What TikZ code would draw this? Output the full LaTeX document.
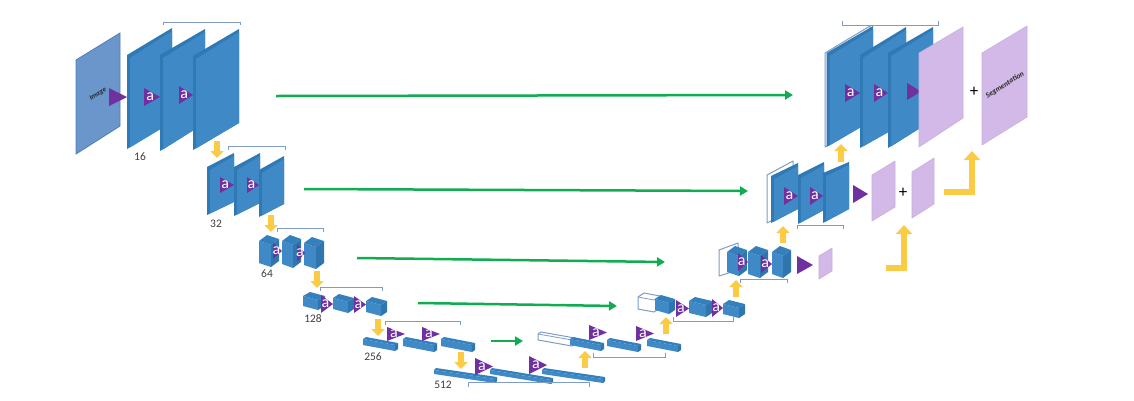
\documentclass[tikz,border=0pt]{standalone}
\usepackage{fontspec}
\setmainfont{Carlito}
\usetikzlibrary{arrows.meta}
\definecolor{pdark}{HTML}{2F79B4}
\definecolor{pface}{HTML}{3E89C6}
\definecolor{ptop}{HTML}{3380BD}
\definecolor{pside}{HTML}{2F76AF}
\definecolor{imgblue}{HTML}{6A96CB}
\definecolor{imgedge}{HTML}{4E7FB6}
\definecolor{lilac}{HTML}{D2B9E8}
\definecolor{lilacedge}{HTML}{C6AEDF}
\definecolor{violet2}{HTML}{7030A0}
\definecolor{brack}{HTML}{7F9CC9}
\definecolor{ygold}{HTML}{FCCB45}
\definecolor{gline}{HTML}{10AC50}
\tikzset{
  bracketline/.style={draw=brack,line width=1pt},
  goarrow/.style={draw=gline,line width=2.5pt,-{Triangle[length=8pt,width=9pt]}},
  yarrow/.style={draw=ygold,line width=6pt,-{Triangle[length=7pt,width=13pt]}},
  yelbow/.style={draw=ygold,line width=6pt,miter limit=10,-{Triangle[length=9pt,width=16pt]}},
  alabel/.style={text=white,font=\fontsize{16}{16}\selectfont,inner sep=0pt},
  numlabel/.style={text=black!75,font=\fontsize{11.5}{12}\selectfont,inner sep=0pt},
  pluslabel/.style={text=black,font=\fontsize{17}{17}\selectfont,inner sep=0pt},
  lilacplate/.style={fill=lilac,draw=lilacedge,line width=0.6pt,line join=round},
  hollow/.style={fill=white,draw=brack,line width=1pt,line join=round},
  solidtri/.style={fill=violet2},
}
% plate: xl, y top left, xr, y top right, y bottom right, y bottom left
\newcommand\plate[6]{%
  \fill[pdark,line join=round] (#1,#2) -- (#3,#4) -- (#3,#5) -- (#1,#6) -- cycle;
  \fill[pface] ({#1+3},{#2+3}) -- (#3,{#4+3}) -- (#3,#5) -- ({#1+3},{#6-1.5}) -- cycle;
}
\newcommand\lilacp[6]{\path[lilacplate] (#1,#2) -- (#3,#4) -- (#3,#5) -- (#1,#6) -- cycle;}
\newcommand\hollowp[6]{\path[hollow] (#1,#2) -- (#3,#4) -- (#3,#5) -- (#1,#6) -- cycle;}
% cube: xl, yt, xr, yb, slope, dx, dy
\newcommand\cube[7]{%
  \fill[pface] (#1,{#2+#7}) -- ({#3-#6},{#2+#7+#5}) -- ({#3-#6},#4) -- (#1,{#4-#5}) -- cycle;
  \fill[ptop] (#1,{#2+#7}) -- ({#1+#6},#2) -- (#3,{#2+#5}) -- ({#3-#6},{#2+#7+#5}) -- cycle;
  \fill[pside] ({#3-#6},{#2+#7+#5}) -- (#3,{#2+#5}) -- (#3,{#4-#7}) -- ({#3-#6},#4) -- cycle;
}
\newcommand\hollowc[7]{%
  \path[hollow] (#1,{#2+#7}) -- ({#1+#6},#2) -- (#3,{#2+#5}) -- (#3,{#4-#7}) -- ({#3-#6},#4) -- (#1,{#4-#5}) -- cycle;
  \draw[brack,line width=0.8pt] (#1,{#2+#7}) -- ({#3-#6},{#2+#7+#5}) -- (#3,{#2+#5});
}
% triangle with letter: name, x, y top, y bottom, x tip
\newcommand\atri[5]{%
  \fill[violet2] (#2,#3) -- (#2,#4) -- (#5,{(#3+#4)/2}) -- cycle;
  \node[alabel] (#1) at ({#2+(#5-#2)*0.38},{(#3+#4)/2}) {a};
}
\newcommand\btri[4]{\fill[violet2] (#1,#2) -- (#1,#3) -- (#4,{(#2+#3)/2}) -- cycle;}
\newcommand\brk[4]{\draw[bracketline] (#1,#3) -- (#1,#2) -- (#4,#2) -- (#4,#3);}
\begin{document}
\begin{tikzpicture}[x=1pt,y=-1pt]
\useasboundingbox[fill=white] (0,0) rectangle (1134,400);

% ---- encoder level 16
\path[fill=imgblue,draw=imgedge,line width=0.8pt] (76,60) -- (120,33) -- (120,126) -- (76,154) -- cycle;
\node[rotate=32,inner sep=0pt,text=black!85,font=\fontsize{7}{7}\selectfont\bfseries\itshape] (imgtxt) at (98,94) {Image};
\plate{127}{55}{172}{28}{122}{149}
\plate{160}{55}{205}{29}{123}{151}
\plate{193}{56}{239}{29}{123}{150}
\btri{109}{88}{106}{127}
\atri{a1}{144}{88}{106}{160}
\atri{a2}{179}{86}{104}{193}
\brk{163}{22}{25}{240}
\node[numlabel] (n16) at (140,157) {16};

% ---- level 32
\plate{207}{167}{234}{153}{202}{215}
\plate{234}{167}{260}{153}{203}{216}
\plate{259}{170}{284}{156}{204}{217}
\atri{a3}{220}{177}{193}{234}
\atri{a4}{247}{177}{193}{259}
\brk{228}{146}{150}{285}
\node[numlabel] (n32) at (216,224) {32};

% ---- level 64
\cube{259}{235}{279}{267}{4}{8}{6}
\cube{282}{235}{301}{268}{4}{8}{6}
\cube{304}{237}{324}{269}{4}{8}{6}
\atri{a5}{273}{243}{259}{282}
\atri{a6}{297}{244}{262}{305}
\brk{277}{228}{232}{323}
\node[numlabel] (n64) at (267,274) {64};

% ---- level 128
\cube{303}{292}{325}{310}{4}{7}{4}
\cube{333}{294}{354}{313}{4}{6}{4}
\cube{366}{297}{387}{316}{4}{6}{4}
\atri{a7}{321}{295}{313}{333}
\atri{a8}{354}{296}{313}{366}
\brk{320}{287}{291}{382}
\node[numlabel] (n128) at (313,319) {128};

% ---- level 256
\cube{363}{337}{398}{351}{6}{3}{2}
\cube{403}{337}{437}{352}{6}{3}{2}
\cube{441}{337}{475}{352}{6}{3}{2}
\atri{a9}{387}{327}{341}{405}
\atri{a10}{422}{327}{341}{440}
\brk{385}{321}{325}{460}
\node[numlabel] (n256) at (373,357) {256};

% ---- level 512
\cube{434}{368}{497}{383}{9}{2}{2}
\cube{490}{368}{553}{384}{10}{2}{2}
\cube{542}{368}{605}{383}{9}{2}{2}
\atri{a11}{475}{358}{375}{493}
\atri{a12}{529}{356}{374}{547}
\brk{468}{382}{387}{589}
\node[numlabel] (n512) at (443,385) {512};

% ---- decoder 256
\hollowc{538}{332}{575}{346}{6}{3}{2}
\cube{570}{337}{604}{351}{6}{3}{2}
\cube{607}{338}{641}{352}{6}{3}{2}
\cube{647}{338}{681}{352}{6}{3}{2}
\atri{a13}{589}{325}{340}{607}
\atri{a14}{636}{326}{341}{654}
\brk{593}{357}{353}{665}

% ---- decoder 128
\hollowc{638}{293}{660}{312}{3}{6}{4}
\cube{655}{295}{675}{314}{4}{6}{4}
\cube{689}{297}{712}{317}{4}{6}{4}
\cube{723}{300}{745}{318}{4}{6}{4}
\atri{a15}{676}{300}{317}{689}
\atri{a16}{712}{299}{317}{723}
\brk{673}{321}{317}{733}

% ---- decoder 64
\hollowp{719}{250}{738}{243}{270}{276}
\cube{727}{246}{747}{276}{4}{8}{6}
\cube{748}{246}{768}{278}{4}{8}{6}
\cube{772}{246}{791}{278}{4}{8}{6}
\atri{a17}{738}{253}{271}{748}
\atri{a18}{761}{255}{273}{772}
\brk{740}{279}{283}{787}
\btri{797}{256}{274}{813}
\lilacp{819}{256}{832}{248}{271}{279}

% ---- decoder 32
\hollowp{767}{175}{793}{161}{209}{223}
\plate{771}{176}{798}{163}{209}{223}
\plate{798}{175}{824}{162}{210}{224}
\plate{823}{173}{849}{162}{209}{223}
\atri{a19}{784}{187}{205}{798}
\atri{a20}{810}{187}{205}{823}
\brk{797}{225}{229}{843}
\btri{853}{185}{203}{868}
\lilacp{872}{175}{895}{161}{207}{221}
\node[pluslabel] (plus1) at (903,193) {+};
\lilacp{912}{172}{934}{158}{204}{218}

% ---- decoder 16
\hollowp{825}{53}{870}{26}{120}{147}
\plate{826.5}{53}{873}{26}{120}{147}
\plate{860}{55}{906}{27}{122}{148}
\plate{888}{53}{933}{27}{120}{148}
\atri{a21}{845}{84}{102}{860}
\atri{a22}{874}{84}{102}{888}
\btri{907}{83}{100}{921}
\lilacp{919}{53}{963}{27}{118}{147}
\brk{842}{25}{21}{938}
\node[pluslabel] (plus2) at (974,92) {+};
\lilacp{982}{53}{1027}{26}{117}{145}
\node[rotate=32,inner sep=0pt,text=black!85,font=\fontsize{7.5}{8}\selectfont\bfseries\itshape] (segtxt) at (1005,85) {Segmentation};

% ---- connector end points
\coordinate (g1s) at (276,96); \coordinate (g1e) at (793,95);
\coordinate (g2s) at (304,189); \coordinate (g2e) at (748,191);
\coordinate (g3s) at (357,258); \coordinate (g3e) at (665,262);
\coordinate (g4s) at (418,303); \coordinate (g4e) at (617,306);
\coordinate (g5s) at (491,341); \coordinate (g5e) at (523,341);
\coordinate (d1s) at (217,141); \coordinate (d1e) at (217,158);
\coordinate (d2s) at (271,215); \coordinate (d2e) at (271,232);
\coordinate (d3s) at (317,271); \coordinate (d3e) at (317,288);
\coordinate (d4s) at (378,319); \coordinate (d4e) at (378,336);
\coordinate (d5s) at (461,352); \coordinate (d5e) at (461,369);
\coordinate (u1s) at (585,368); \coordinate (u1e) at (585,351);
\coordinate (u2s) at (666,334); \coordinate (u2e) at (666,317);
\coordinate (u3s) at (736,297); \coordinate (u3e) at (736,280);
\coordinate (u4s) at (783,243); \coordinate (u4e) at (783,226);
\coordinate (u5s) at (841,162); \coordinate (u5e) at (841,144);
\coordinate (e1s) at (886,268); \coordinate (e1m) at (904,268); \coordinate (e1e) at (904,225);
\coordinate (e2s) at (944,192); \coordinate (e2m) at (972,192); \coordinate (e2e) at (972,151);

\draw[goarrow] (g1s) -- (g1e);
\draw[goarrow] (g2s) -- (g2e);
\draw[goarrow] (g3s) -- (g3e);
\draw[goarrow] (g4s) -- (g4e);
\draw[goarrow] (g5s) -- (g5e);
\draw[yarrow] (d1s) -- (d1e);
\draw[yarrow] (d2s) -- (d2e);
\draw[yarrow] (d3s) -- (d3e);
\draw[yarrow] (d4s) -- (d4e);
\draw[yarrow] (d5s) -- (d5e);
\draw[yarrow] (u1s) -- (u1e);
\draw[yarrow] (u2s) -- (u2e);
\draw[yarrow] (u3s) -- (u3e);
\draw[yarrow] (u4s) -- (u4e);
\draw[yarrow] (u5s) -- (u5e);
\draw[yelbow] (e1s) -- (e1m) -- (e1e);
\draw[yelbow] (e2s) -- (e2m) -- (e2e);
\end{tikzpicture}
\end{document}
